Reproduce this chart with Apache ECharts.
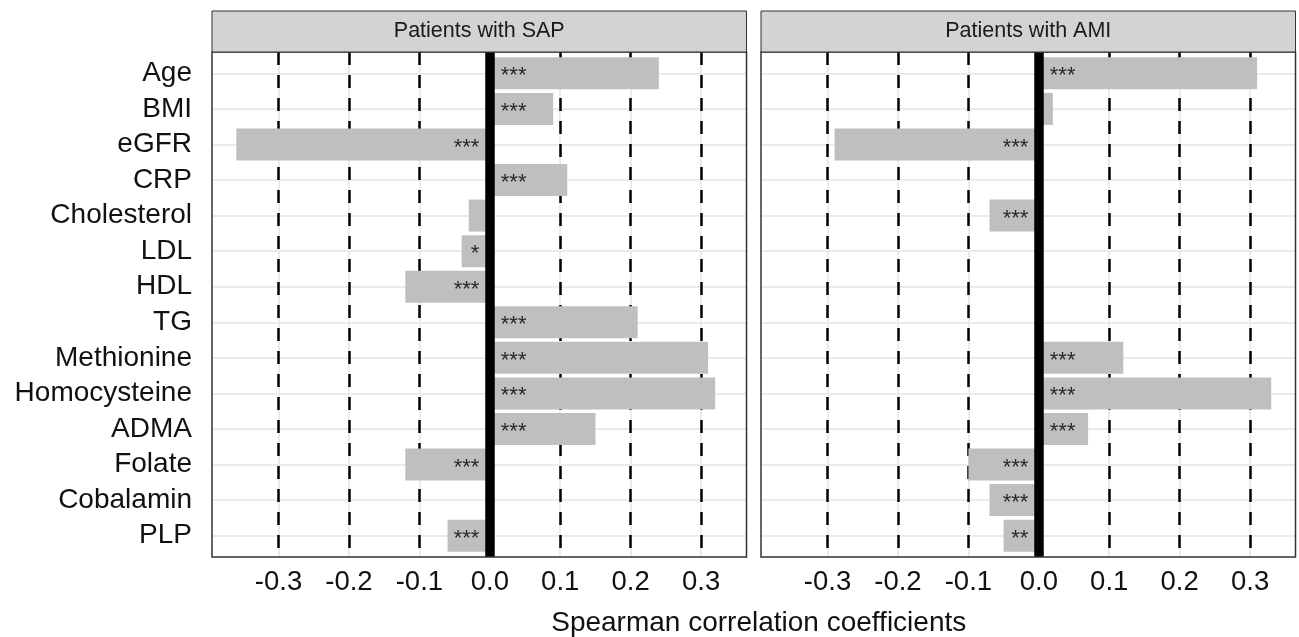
<!DOCTYPE html>
<html><head><meta charset="utf-8">
<script src="https://cdn.jsdelivr.net/npm/echarts@6/dist/echarts.min.js"></script>
<style>html,body{margin:0;padding:0;background:#fff}#c{width:1299px;height:637px}</style>
</head><body><div id="c"></div>
<script>
const categories = ['Age','BMI','eGFR','CRP','Cholesterol','LDL','HDL','TG','Methionine','Homocysteine','ADMA','Folate','Cobalamin','PLP'];
const panelTitles = ['Patients with SAP','Patients with AMI'];
const sapValues = [0.24,0.09,-0.36,0.11,-0.03,-0.04,-0.12,0.21,0.31,0.32,0.15,-0.12,0,-0.06];
const amiValues = [0.31,0.02,-0.29,0,-0.07,0,0,0,0.12,0.33,0.07,-0.10,-0.07,-0.05];
const sapStars = ['***','***','***','***','','*','***','***','***','***','***','***','','***'];
const amiStars = ['***','','***','','***','','','','***','***','***','***','***','**'];
const xTicks = [-0.3,-0.2,-0.1,0.0,0.1,0.2,0.3];
const axisTitle = 'Spearman correlation coefficients';

const FONT = '"Liberation Sans", Arial, Helvetica, sans-serif';
const panels = [{values: sapValues, stars: sapStars}, {values: amiValues, stars: amiStars}];
const allVals = sapValues.concat(amiValues);
const lo = Math.min(...allVals), hi = Math.max(...allVals);
const pad = (hi - lo) * 0.05;
const xMin = lo - pad, xMax = hi + pad;

const W = 534.5, lefts = [212, 761], panelTop = 52, panelBottom = 557;
const unit = (panelBottom - panelTop) / (categories.length + 0.2);
const bandTop = panelTop + 0.1 * unit, bandH = categories.length * unit;

const grid = [], xAxis = [], yAxis = [], series = [], graphics = [];
panels.forEach((p, k) => {
  const gA = 2 * k, gB = 2 * k + 1;
  grid.push({left: lefts[k], top: panelTop, width: W, height: panelBottom - panelTop});
  grid.push({left: lefts[k], top: bandTop, width: W, height: bandH});
  xAxis.push({type: 'value', gridIndex: gA, min: xMin, max: xMax,
    axisLine: {show: false}, axisTick: {show: false}, splitLine: {show: false},
    axisLabel: {show: true, customValues: xTicks, formatter: v => Number(v).toFixed(1),
      fontSize: 27.5, color: '#111', margin: 11, fontFamily: FONT}});
  xAxis.push({type: 'value', gridIndex: gB, min: xMin, max: xMax, show: false});
  yAxis.push({type: 'value', gridIndex: gA, min: -0.6, max: categories.length - 1 + 0.6, inverse: true, show: false});
  yAxis.push({type: 'category', gridIndex: gB, data: categories, inverse: true,
    axisLine: {show: false}, splitLine: {show: false},
    axisTick: {show: k === 0, alignWithLabel: true, interval: 0, length: 7, lineStyle: {color: '#333', width: 1.5}},
    axisLabel: {show: k === 0, interval: 0, fontSize: 28, color: '#111', margin: 20, fontFamily: FONT}});

  const lightLine = {color: '#ebebeb', width: 2, type: 'solid'};
  series.push({type: 'scatter', xAxisIndex: gA, yAxisIndex: gA, data: [], z: 1,
    markLine: {z: 1, silent: true, symbol: ['none', 'none'], label: {show: false}, animation: false,
      data: categories.map((c, i) => ({yAxis: i, lineStyle: lightLine}))
        .concat(xTicks.map(t => ({xAxis: t, lineStyle: lightLine})))}});
  series.push({type: 'scatter', xAxisIndex: gA, yAxisIndex: gA, data: [], z: 2,
    markLine: {z: 2, silent: true, symbol: ['none', 'none'], label: {show: false}, animation: false,
      data: xTicks.filter(t => t !== 0).map(t => ({xAxis: t, lineStyle: {color: '#000', width: 2.5, type: [13, 10]}}))}});
  series.push({type: 'bar', xAxisIndex: gB, yAxisIndex: gB, data: p.values, barWidth: '90%', z: 3,
    itemStyle: {color: '#bfbfbf'}, animation: false});
  series.push({type: 'scatter', xAxisIndex: gA, yAxisIndex: gA, data: [], z: 4,
    markLine: {z: 4, silent: true, symbol: ['none', 'none'], label: {show: false}, animation: false,
      data: [{xAxis: 0, lineStyle: {color: '#000', width: 9.5, type: 'solid'}}]}});
  series.push({type: 'scatter', xAxisIndex: gB, yAxisIndex: gB, z: 6, symbolSize: 0,
    itemStyle: {color: 'rgba(0,0,0,0)'}, animation: false, silent: true,
    data: p.values.map((v, i) => ({value: [0, i], label: {show: p.stars[i] !== '',
      position: v >= 0 ? 'right' : 'left', distance: v >= 0 ? 11 : 10.5,
      formatter: p.stars[i], fontSize: 22, color: '#000', fontFamily: FONT, offset: [0, 3]}}))});

  graphics.push({type: 'rect', z: 100, silent: true,
    shape: {x: lefts[k], y: panelTop, width: W, height: panelBottom - panelTop},
    style: {fill: 'none', stroke: '#333', lineWidth: 1.5}});
  graphics.push({type: 'rect', z: 100, silent: true,
    shape: {x: lefts[k], y: 11, width: W, height: panelTop - 11},
    style: {fill: '#d3d3d3', stroke: '#333', lineWidth: 1}});
  graphics.push({type: 'text', z: 101, silent: true, x: lefts[k] + W / 2, y: 31.5,
    style: {text: panelTitles[k], align: 'center', verticalAlign: 'middle',
      fontSize: 21.5, fontFamily: FONT, fill: '#1a1a1a'}});
});

const chart = echarts.init(document.getElementById('c'), null, {renderer: 'canvas'});
chart.setOption({
  animation: false,
  backgroundColor: '#fff',
  textStyle: {fontFamily: FONT},
  title: {text: axisTitle, left: (lefts[0] + lefts[1] + W) / 2, top: 604, textAlign: 'center',
    textStyle: {fontSize: 28, fontWeight: 'normal', color: '#111', fontFamily: FONT}},
  grid, xAxis, yAxis, series,
  graphic: {elements: graphics}
});
</script></body></html>
